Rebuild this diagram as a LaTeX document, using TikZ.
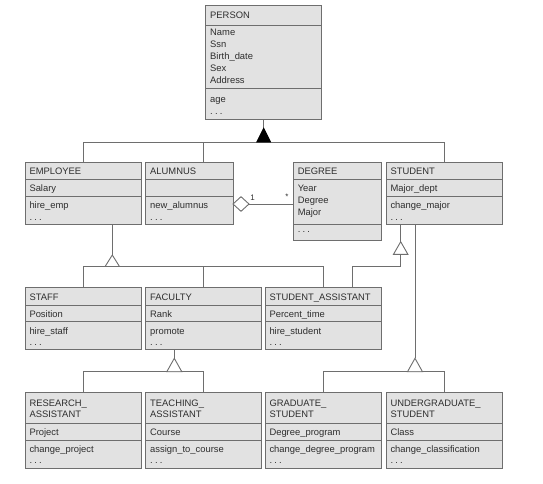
\documentclass[tikz,border=0pt]{standalone}
\usepackage{fontspec}
\setmainfont{Liberation Sans}
\usetikzlibrary{fit}
\definecolor{linec}{HTML}{6E6E6E}
\definecolor{boxc}{HTML}{E2E2E2}
\definecolor{textc}{HTML}{2E2E2E}
\newcommand\umlfont{\fontsize{9.4}{12}\selectfont}
\newcommand\umlclass[7]{%
  \node[cls, fit={(#2,#3) (#4,#5)}] (#1) {};
  \draw[ln] (#2,#6) -- (#4,#6);
  \draw[ln] (#2,#7) -- (#4,#7);
}
\newcommand\ut[3]{\node[txt] (#1) at (#2) {#3};}
\newcommand\udots{.\hspace{2.2pt}.\hspace{2.2pt}.}
\begin{document}
\begin{tikzpicture}[x=1pt,y=-1pt,
  cls/.style={draw=linec, fill=boxc, line width=0.9pt, inner sep=0pt},
  ln/.style={draw=linec, line width=0.9pt},
  txt/.style={anchor=base west, inner sep=0pt, font=\umlfont, text=textc},
  opentri/.style={draw=linec, line width=0.9pt, fill=white},
  mult/.style={inner sep=0pt, font=\fontsize{8}{9}\selectfont, text=textc},
]
\useasboundingbox (0,0) rectangle (543,483);

% ---------- classes ----------
\umlclass{person}{205.7}{5}{321.7}{119}{25}{88}
\umlclass{employee}{25}{162.3}{141}{224}{179.3}{196.7}
\umlclass{alumnus}{145.7}{162.3}{233}{224}{179.3}{196.7}
\umlclass{degree}{293.3}{162.3}{381.7}{240}{179.3}{224}
\umlclass{student}{386}{162.3}{502.3}{224}{179.3}{196.7}
\umlclass{staff}{25}{287.7}{141}{349.3}{305.7}{321}
\umlclass{faculty}{145.7}{287.7}{261}{349.3}{305.7}{321}
\umlclass{stuasst}{265}{287.7}{381.7}{349.3}{305.7}{321}
\umlclass{research}{25}{392.7}{141}{468.3}{423.3}{440}
\umlclass{teaching}{145.7}{392.7}{261}{468.3}{423.3}{440}
\umlclass{graduate}{265}{392.7}{381.7}{468.3}{423.3}{440}
\umlclass{undergrad}{386}{392.7}{502.3}{468.3}{423.3}{440}

% ---------- texts ----------
\ut{p0}{210,18.5}{PERSON}
\ut{p1}{210,35}{Name}
\ut{p2}{210,47}{Ssn}
\ut{p3}{210,59}{Birth\_date}
\ut{p4}{210,71}{Sex}
\ut{p5}{210,83}{Address}
\ut{p6}{210,102.5}{age}
\ut{p7}{210,114.5}{\udots}

\ut{e0}{29.3,174.3}{EMPLOYEE}
\ut{e1}{29.3,191.5}{Salary}
\ut{e2}{29.3,208.5}{hire\_emp}
\ut{e3}{29.3,220}{\udots}

\ut{a0}{150,174.3}{ALUMNUS}
\ut{a2}{150,208.5}{new\_alumnus}
\ut{a3}{150,220}{\udots}

\ut{d0}{297.6,174.3}{DEGREE}
\ut{d1}{297.6,191.7}{Year}
\ut{d2}{297.6,203.7}{Degree}
\ut{d3}{297.6,215.7}{Major}
\ut{d4}{297.6,232.5}{\udots}

\ut{s0}{390.3,174.3}{STUDENT}
\ut{s1}{390.3,191.5}{Major\_dept}
\ut{s2}{390.3,208.5}{change\_major}
\ut{s3}{390.3,220}{\udots}

\ut{f0}{29.3,300.7}{STAFF}
\ut{f1}{29.3,317.4}{Position}
\ut{f2}{29.3,334}{hire\_staff}
\ut{f3}{29.3,345}{\udots}

\ut{g0}{150,300.7}{FACULTY}
\ut{g1}{150,317.4}{Rank}
\ut{g2}{150,334}{promote}
\ut{g3}{150,345}{\udots}

\ut{h0}{269.3,300.7}{STUDENT\_ASSISTANT}
\ut{h1}{269.3,317.4}{Percent\_time}
\ut{h2}{269.3,334}{hire\_student}
\ut{h3}{269.3,345}{\udots}

\ut{r0}{29.3,406}{RESEARCH\_}
\ut{r1}{29.3,417.5}{ASSISTANT}
\ut{r2}{29.3,435}{Project}
\ut{r3}{29.3,452.4}{change\_project}
\ut{r4}{29.3,463.5}{\udots}

\ut{t0}{150,406}{TEACHING\_}
\ut{t1}{150,417.5}{ASSISTANT}
\ut{t2}{150,435}{Course}
\ut{t3}{150,452.4}{assign\_to\_course}
\ut{t4}{150,463.5}{\udots}

\ut{u0}{269.3,406}{GRADUATE\_}
\ut{u1}{269.3,417.5}{STUDENT}
\ut{u2}{269.3,435}{Degree\_program}
\ut{u3}{269.3,452.4}{change\_degree\_program}
\ut{u4}{269.3,463.5}{\udots}

\ut{v0}{390.3,406}{UNDERGRADUATE\_}
\ut{v1}{390.3,417.5}{STUDENT}
\ut{v2}{390.3,435}{Class}
\ut{v3}{390.3,452.4}{change\_classification}
\ut{v4}{390.3,463.5}{\udots}

% ---------- PERSON specialization ----------
\coordinate (tp) at (263.7,128);
\coordinate (hp) at (263.7,142);
\draw[ln] (person.south) -- (tp);
\draw[ln] (employee.north) -- (employee.north |- hp) -- (student.north |- hp) -- (student.north);
\coordinate (al) at (203.3,142);
\draw[ln] (al) -- (al |- alumnus.north);
\draw[draw=black, fill=black, line width=0.6pt] (tp) -- ++(7,14) -- ++(-14,0) -- cycle;

% ---------- aggregation ALUMNUS - DEGREE ----------
\coordinate (dl) at (233,204);
\coordinate (dr) at (249,204);
\draw[ln] (dr) -- (dr -| degree.west);
\draw[opentri] (dl) -- ++(8,-7.3) -- (dr) -- ++(-8,7.3) -- cycle;
\node[mult] (m1) at (252.5,197.5) {1};
\node[mult] (m2) at (287,196.5) {*};

% ---------- EMPLOYEE specialization ----------
\coordinate (et) at (112.3,255);
\coordinate (hy) at (0,266.5);
\draw[ln] (et |- employee.south) -- (et);
\draw[ln] (staff.north) -- (staff.north |- hy) -- (stuasst.north |- hy) -- (stuasst.north);
\draw[ln] (faculty.north) -- (faculty.north |- hy);
\draw[opentri] (et) -- ++(7.2,11.5) -- ++(-14.4,0) -- cycle;

% ---------- STUDENT -> STUDENT_ASSISTANT ----------
\coordinate (st) at (400.7,241.7);
\coordinate (sb) at (400.7,254.3);
\coordinate (sa) at (352.3,266.5);
\draw[ln] (st |- student.south) -- (st);
\draw[ln] (sb) -- (sb |- sa) -- (sa) -- (sa |- stuasst.north);
\draw[opentri] (st) -- ++(7.2,12.6) -- ++(-14.4,0) -- cycle;

% ---------- FACULTY specialization ----------
\coordinate (ft) at (174.3,358.3);
\coordinate (hz) at (0,371.7);
\draw[ln] (ft |- faculty.south) -- (ft);
\draw[ln] (research.north) -- (research.north |- hz) -- (teaching.north |- hz) -- (teaching.north);
\draw[opentri] (ft) -- ++(7.5,13.4) -- ++(-15,0) -- cycle;

% ---------- STUDENT specialization ----------
\coordinate (gt) at (415,358.3);
\draw[ln] (gt |- student.south) -- (gt);
\draw[ln] (graduate.north) -- (graduate.north |- hz) -- (undergrad.north |- hz) -- (undergrad.north);
\draw[opentri] (gt) -- ++(7.5,13.4) -- ++(-15,0) -- cycle;
\end{tikzpicture}
\end{document}
